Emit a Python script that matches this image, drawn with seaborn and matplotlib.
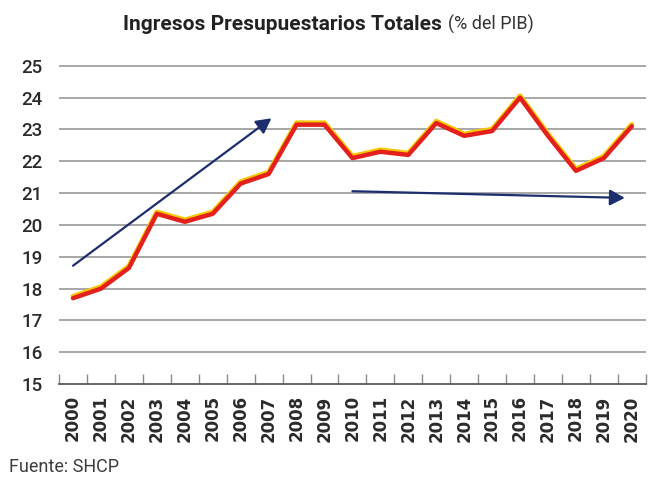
import matplotlib
matplotlib.use("Agg")
import matplotlib.pyplot as plt
import matplotlib.patheffects as pe
from matplotlib.ticker import FixedLocator
import seaborn as sns
import pandas as pd

years = [str(y) for y in range(2000, 2021)]
ingresos = [17.7, 18.0, 18.65, 20.35, 20.1, 20.35, 21.3, 21.6, 23.15, 23.15,
            22.1, 22.3, 22.2, 23.2, 22.8, 22.95, 24.0, 22.8, 21.7, 22.1, 23.1]
y_ticks = list(range(15, 26))

df = pd.DataFrame({"anio": range(len(years)), "valor": ingresos})

sns.set_theme(style="white")
plt.rcParams["font.family"] = ["Roboto", "DejaVu Sans"]

fig = plt.figure(figsize=(6.49, 4.79), dpi=100)
ax = fig.add_axes([0.091, 0.198, 0.904, 0.668])

# horizontal guide lines
for v in y_ticks[1:]:
    ax.axhline(v, color="#a0a0a0", lw=1.3, zorder=1)

sns.lineplot(data=df, x="anio", y="valor", ax=ax, color="#e3201b", lw=3.2,
             zorder=3,
             path_effects=[pe.Stroke(offset=(0, 1.3), linewidth=3.6,
                                     foreground="#f6c800"),
                           pe.Normal()])

# trend arrows
arrow_kw = dict(arrowstyle="-|>,head_length=0.75,head_width=0.4",
                color="#1c2e6e", lw=1.6, shrinkA=0, shrinkB=0)
ax.annotate("", xy=(7.1, 23.35), xytext=(0.0, 18.72), arrowprops=arrow_kw,
            zorder=4)
ax.annotate("", xy=(19.75, 20.85), xytext=(10.0, 21.06), arrowprops=arrow_kw,
            zorder=4)

ax.set_xlim(-0.5, len(years) - 0.5)
ax.set_ylim(15, 25.05)
ax.set_yticks(y_ticks)
ax.set_yticklabels([str(v) for v in y_ticks], fontsize=13.5,
                   fontweight="medium", color="#2b2b2b")
ax.set_xticks(range(len(years)))
ax.set_xticklabels(years, rotation=90, fontsize=12, fontweight="bold",
                   color="#2b2b2b", family=["DejaVu Sans"])
ax.xaxis.set_minor_locator(FixedLocator([i - 0.5 for i in range(len(years) + 1)]))
ax.tick_params(axis="x", which="major", length=0, pad=8)
ax.tick_params(axis="x", which="minor", direction="in", length=7,
               width=1.0, color="#8a8a8a", bottom=True)
ax.tick_params(axis="y", length=0, pad=12)
ax.set_xlabel("")
ax.set_ylabel("")

for side in ["top", "right", "left"]:
    ax.spines[side].set_visible(False)
ax.spines["bottom"].set_color("#5a5a5a")
ax.spines["bottom"].set_linewidth(1.3)

fig.text(0.189, 0.937, "Ingresos Presupuestarios Totales", fontsize=15,
         fontweight="bold", color="#222222", ha="left", va="baseline")
fig.text(0.690, 0.937, "(% del PIB)", fontsize=13, color="#333333",
         ha="left", va="baseline")
fig.text(0.014, 0.0146, "Fuente: SHCP", fontsize=13, color="#3c3c3c",
         ha="left", va="baseline")

fig.savefig("out.png", dpi=100, facecolor="white")
